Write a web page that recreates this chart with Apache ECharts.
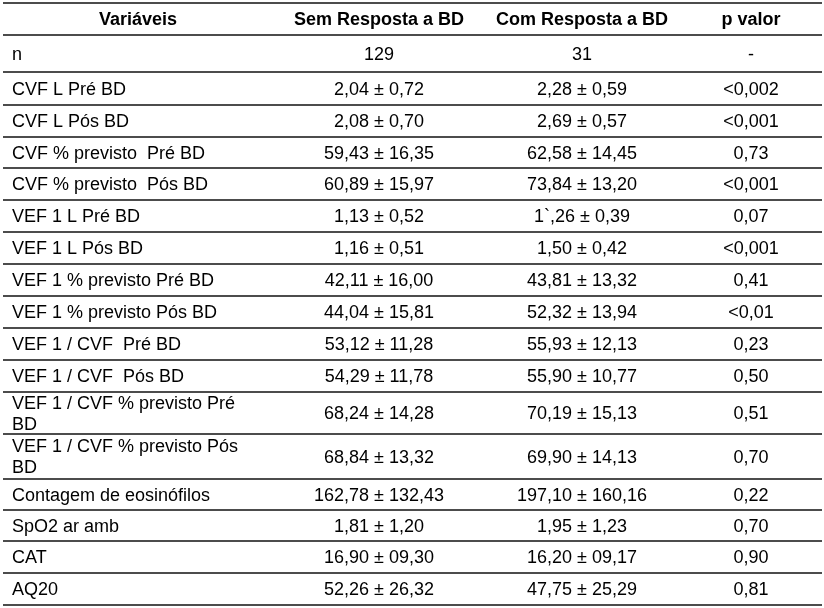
<!DOCTYPE html>
<html style="height: 100%">
<head>
<meta charset="utf-8">
<title>Resposta a BD</title>
</head>
<body style="height: 100%; margin: 0; background: #fff">
<div id="container" style="width: 824px; height: 608px"></div>
<script type="text/javascript" src="https://cdn.jsdelivr.net/npm/echarts@6/dist/echarts.min.js"></script>
<script type="text/javascript">
var headers = ['Variáveis', 'Sem Resposta a BD', 'Com Resposta a BD', 'p valor'];
var variables = ['n', 'CVF L Pré BD', 'CVF L Pós BD', 'CVF % previsto  Pré BD', 'CVF % previsto  Pós BD',
    'VEF 1 L Pré BD', 'VEF 1 L Pós BD', 'VEF 1 % previsto Pré BD', 'VEF 1 % previsto Pós BD',
    'VEF 1 / CVF  Pré BD', 'VEF 1 / CVF  Pós BD', 'VEF 1 / CVF % previsto Pré BD', 'VEF 1 / CVF % previsto Pós BD',
    'Contagem de eosinófilos', 'SpO2 ar amb', 'CAT', 'AQ20'];
var semMean = ['129', '2,04', '2,08', '59,43', '60,89', '1,13', '1,16', '42,11', '44,04',
    '53,12', '54,29', '68,24', '68,84', '162,78', '1,81', '16,90', '52,26'];
var semSd = [null, '0,72', '0,70', '16,35', '15,97', '0,52', '0,51', '16,00', '15,81',
    '11,28', '11,78', '14,28', '13,32', '132,43', '1,20', '09,30', '26,32'];
var comMean = ['31', '2,28', '2,69', '62,58', '73,84', '1`,26', '1,50', '43,81', '52,32',
    '55,93', '55,90', '70,19', '69,90', '197,10', '1,95', '16,20', '47,75'];
var comSd = [null, '0,59', '0,57', '14,45', '13,20', '0,39', '0,42', '13,32', '13,94',
    '12,13', '10,77', '15,13', '14,13', '160,16', '1,23', '09,17', '25,29'];
var pValues = ['-', '<0,002', '<0,001', '0,73', '<0,001', '0,07', '<0,001', '0,41', '<0,01',
    '0,23', '0,50', '0,51', '0,70', '0,22', '0,70', '0,90', '0,81'];

// layout (y edges of rows, header first)
var edges = [3, 35, 72, 105, 137, 168, 200, 232, 264, 296, 328, 360, 392, 434, 479, 510, 541, 573, 605];
var colX = [12, 379, 582, 751];
var headerX0 = 138;
var lineX = [3, 822];
var textDy = 1.5;
var FONT = "18px 'Liberation Sans', Arial, sans-serif";
var FONT_B = "bold 18px 'Liberation Sans', Arial, sans-serif";

function fmt(mean, sd) {
    return sd == null ? mean : mean + ' ± ' + sd;
}

function cell(api, x, y, text, font, align, width) {
    var p = api.coord([x, y + textDy]);
    var st = {
        text: text, x: p[0], y: p[1], font: font, fill: '#000',
        align: align, verticalAlign: 'middle',
        textAlign: align, textVerticalAlign: 'middle', lineHeight: 21
    };
    if (width) { st.width = width; st.overflow = 'break'; }
    return {type: 'text', style: st};
}

function hline(api, y) {
    var a = api.coord([lineX[0], y]);
    var b = api.coord([lineX[1], y]);
    return {type: 'line', shape: {x1: a[0], y1: a[1], x2: b[0], y2: b[1]},
        style: {stroke: '#111', lineWidth: 1.4}};
}

function renderItem(params, api) {
    var r = api.value(0);
    var top = edges[r], bottom = edges[r + 1];
    var mid = (top + bottom) / 2;
    var kids = [hline(api, bottom)];
    if (r === 0) {
        kids.push(hline(api, top));
        kids.push(cell(api, headerX0, mid, headers[0], FONT_B, 'center'));
        kids.push(cell(api, colX[1], mid, headers[1], FONT_B, 'center'));
        kids.push(cell(api, colX[2], mid, headers[2], FONT_B, 'center'));
        kids.push(cell(api, colX[3], mid, headers[3], FONT_B, 'center'));
    } else {
        var i = r - 1;
        kids.push(cell(api, colX[0], mid, variables[i], FONT, 'left', 240));
        kids.push(cell(api, colX[1], mid, fmt(semMean[i], semSd[i]), FONT, 'center'));
        kids.push(cell(api, colX[2], mid, fmt(comMean[i], comSd[i]), FONT, 'center'));
        kids.push(cell(api, colX[3], mid, pValues[i], FONT, 'center'));
    }
    return {type: 'group', children: kids};
}

var rows = [];
for (var k = 0; k <= variables.length; k++) rows.push([k]);

var myChart = echarts.init(document.getElementById('container'));
var option = {
    backgroundColor: '#fff',
    animation: false,
    grid: {left: 0, right: 0, top: 0, bottom: 0},
    xAxis: {type: 'value', min: 0, max: 824, show: false},
    yAxis: {type: 'value', min: 0, max: 608, inverse: true, show: false},
    series: [{
        type: 'custom',
        renderItem: renderItem,
        data: rows,
        encode: {x: -1, y: -1}
    }]
};
myChart.setOption(option);
</script>
</body>
</html>
